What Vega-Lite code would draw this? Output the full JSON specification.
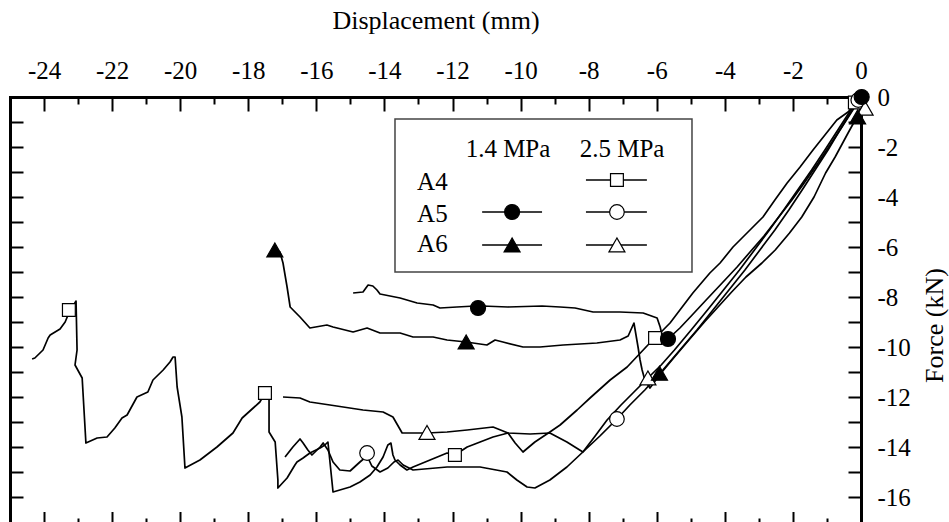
{
  "$schema": "https://vega.github.io/schema/vega-lite/v6.json",
  "width": 851,
  "height": 425,
  "autosize": {"type": "none"},
  "padding": {"left": 10, "top": 97, "right": 88, "bottom": 0},
  "background": "white",
  "config": {
    "view": {"stroke": null},
    "axis": {
      "grid": false, "domain": false, "domainColor": "black", "domainWidth": 3, "domainCap": "square",
      "tickColor": "black", "tickWidth": 2,
      "labelFont": "'Liberation Serif', 'Times New Roman', Times, serif", "labelFontSize": 25, "labelColor": "black",
      "titleFont": "'Liberation Serif', 'Times New Roman', Times, serif", "titleFontSize": 26, "titleColor": "black", "titleFontWeight": "normal",
      "labelFlush": false, "labelOverlap": false
    },
    "text": {"font": "'Liberation Serif', 'Times New Roman', Times, serif"}
  },
  "datasets": {
    "curves": [
      {"s":"A4 2.5","i":1,"x":0,"y":-0.04},{"s":"A4 2.5","i":2,"x":-0.18,"y":-0.28},{"s":"A4 2.5","i":3,"x":-0.38,"y":-0.6},{"s":"A4 2.5","i":4,"x":-0.71,"y":-0.92},{"s":"A4 2.5","i":5,"x":-1.06,"y":-1.52},{"s":"A4 2.5","i":6,"x":-1.41,"y":-2.12},{"s":"A4 2.5","i":7,"x":-1.79,"y":-2.8},{"s":"A4 2.5","i":8,"x":-2.17,"y":-3.44},{"s":"A4 2.5","i":9,"x":-2.53,"y":-4.12},{"s":"A4 2.5","i":10,"x":-2.88,"y":-4.8},{"s":"A4 2.5","i":11,"x":-3.32,"y":-5.4},{"s":"A4 2.5","i":12,"x":-3.76,"y":-6.0},{"s":"A4 2.5","i":13,"x":-4.14,"y":-6.64},{"s":"A4 2.5","i":14,"x":-4.44,"y":-7.04},{"s":"A4 2.5","i":15,"x":-4.94,"y":-7.84},{"s":"A4 2.5","i":16,"x":-5.32,"y":-8.52},{"s":"A4 2.5","i":17,"x":-5.61,"y":-9.04},{"s":"A4 2.5","i":18,"x":-5.9,"y":-9.44},{"s":"A4 2.5","i":19,"x":-6.05,"y":-9.64},{"s":"A4 2.5","i":20,"x":-6.26,"y":-9.92},{"s":"A4 2.5","i":21,"x":-6.87,"y":-10.8},{"s":"A4 2.5","i":22,"x":-7.37,"y":-11.32},{"s":"A4 2.5","i":23,"x":-7.96,"y":-12.04},{"s":"A4 2.5","i":24,"x":-8.34,"y":-12.52},{"s":"A4 2.5","i":25,"x":-8.84,"y":-13.12},{"s":"A4 2.5","i":26,"x":-9.14,"y":-13.4},{"s":"A4 2.5","i":27,"x":-9.58,"y":-13.8},{"s":"A4 2.5","i":28,"x":-9.93,"y":-14.2},{"s":"A4 2.5","i":29,"x":-10.16,"y":-13.84},{"s":"A4 2.5","i":30,"x":-10.37,"y":-13.44},{"s":"A4 2.5","i":31,"x":-10.81,"y":-13.6},{"s":"A4 2.5","i":32,"x":-11.19,"y":-13.8},{"s":"A4 2.5","i":33,"x":-11.57,"y":-14.0},{"s":"A4 2.5","i":34,"x":-11.93,"y":-14.32},{"s":"A4 2.5","i":35,"x":-12.16,"y":-14.24},{"s":"A4 2.5","i":36,"x":-12.66,"y":-14.52},{"s":"A4 2.5","i":37,"x":-13.16,"y":-14.8},{"s":"A4 2.5","i":38,"x":-13.34,"y":-14.92},{"s":"A4 2.5","i":39,"x":-13.54,"y":-14.72},{"s":"A4 2.5","i":40,"x":-13.69,"y":-14.52},{"s":"A4 2.5","i":41,"x":-13.75,"y":-14.32},{"s":"A4 2.5","i":42,"x":-13.81,"y":-13.84},{"s":"A4 2.5","i":43,"x":-13.9,"y":-13.92},{"s":"A4 2.5","i":44,"x":-14.04,"y":-14.4},{"s":"A4 2.5","i":45,"x":-14.22,"y":-14.8},{"s":"A4 2.5","i":46,"x":-14.42,"y":-15.12},{"s":"A4 2.5","i":47,"x":-14.72,"y":-15.4},{"s":"A4 2.5","i":48,"x":-15.01,"y":-15.6},{"s":"A4 2.5","i":49,"x":-15.51,"y":-15.8},{"s":"A4 2.5","i":50,"x":-15.66,"y":-13.8},{"s":"A4 2.5","i":51,"x":-15.75,"y":-13.92},{"s":"A4 2.5","i":52,"x":-15.89,"y":-14.04},{"s":"A4 2.5","i":53,"x":-16.19,"y":-14.24},{"s":"A4 2.5","i":54,"x":-16.39,"y":-14.44},{"s":"A4 2.5","i":55,"x":-16.57,"y":-14.6},{"s":"A4 2.5","i":56,"x":-16.63,"y":-14.72},{"s":"A4 2.5","i":57,"x":-16.86,"y":-15.24},{"s":"A4 2.5","i":58,"x":-17.13,"y":-15.64},{"s":"A4 2.5","i":59,"x":-17.13,"y":-15.32},{"s":"A4 2.5","i":60,"x":-17.21,"y":-13.8},{"s":"A4 2.5","i":61,"x":-17.39,"y":-13.4},{"s":"A4 2.5","i":62,"x":-17.39,"y":-11.64},{"s":"A4 2.5","i":63,"x":-17.51,"y":-11.84},{"s":"A4 2.5","i":64,"x":-17.66,"y":-12.2},{"s":"A4 2.5","i":65,"x":-18.18,"y":-12.84},{"s":"A4 2.5","i":66,"x":-18.45,"y":-13.44},{"s":"A4 2.5","i":67,"x":-18.92,"y":-14.0},{"s":"A4 2.5","i":68,"x":-19.42,"y":-14.52},{"s":"A4 2.5","i":69,"x":-19.86,"y":-14.84},{"s":"A4 2.5","i":70,"x":-19.95,"y":-12.8},{"s":"A4 2.5","i":71,"x":-20.09,"y":-11.6},{"s":"A4 2.5","i":72,"x":-20.15,"y":-10.4},{"s":"A4 2.5","i":73,"x":-20.21,"y":-10.4},{"s":"A4 2.5","i":74,"x":-20.3,"y":-10.6},{"s":"A4 2.5","i":75,"x":-20.5,"y":-10.92},{"s":"A4 2.5","i":76,"x":-20.8,"y":-11.32},{"s":"A4 2.5","i":77,"x":-20.95,"y":-11.8},{"s":"A4 2.5","i":78,"x":-21.27,"y":-12.0},{"s":"A4 2.5","i":79,"x":-21.56,"y":-12.72},{"s":"A4 2.5","i":80,"x":-21.71,"y":-12.84},{"s":"A4 2.5","i":81,"x":-21.92,"y":-13.24},{"s":"A4 2.5","i":82,"x":-22.15,"y":-13.6},{"s":"A4 2.5","i":83,"x":-22.44,"y":-13.64},{"s":"A4 2.5","i":84,"x":-22.77,"y":-13.84},{"s":"A4 2.5","i":85,"x":-22.88,"y":-11.24},{"s":"A4 2.5","i":86,"x":-23.09,"y":-10.72},{"s":"A4 2.5","i":87,"x":-23.03,"y":-10.12},{"s":"A4 2.5","i":88,"x":-23.06,"y":-8.16},{"s":"A4 2.5","i":89,"x":-23.27,"y":-8.64},{"s":"A4 2.5","i":90,"x":-23.38,"y":-9.0},{"s":"A4 2.5","i":91,"x":-23.53,"y":-9.28},{"s":"A4 2.5","i":92,"x":-23.82,"y":-9.52},{"s":"A4 2.5","i":93,"x":-23.88,"y":-9.64},{"s":"A4 2.5","i":94,"x":-24.03,"y":-10.12},{"s":"A4 2.5","i":95,"x":-24.27,"y":-10.44},{"s":"A4 2.5","i":96,"x":-24.35,"y":-10.48},

      {"s":"A5 1.4","i":1,"x":0,"y":0},{"s":"A5 1.4","i":2,"x":-0.24,"y":-0.52},{"s":"A5 1.4","i":3,"x":-0.56,"y":-1.2},{"s":"A5 1.4","i":4,"x":-0.91,"y":-1.92},{"s":"A5 1.4","i":5,"x":-1.26,"y":-2.64},{"s":"A5 1.4","i":6,"x":-1.67,"y":-3.44},{"s":"A5 1.4","i":7,"x":-2.03,"y":-4.12},{"s":"A5 1.4","i":8,"x":-2.44,"y":-4.84},{"s":"A5 1.4","i":9,"x":-2.85,"y":-5.56},{"s":"A5 1.4","i":10,"x":-3.26,"y":-6.2},{"s":"A5 1.4","i":11,"x":-3.64,"y":-6.8},{"s":"A5 1.4","i":12,"x":-4.08,"y":-7.44},{"s":"A5 1.4","i":13,"x":-4.55,"y":-8.12},{"s":"A5 1.4","i":14,"x":-4.96,"y":-8.72},{"s":"A5 1.4","i":15,"x":-5.32,"y":-9.24},{"s":"A5 1.4","i":16,"x":-5.67,"y":-9.68},{"s":"A5 1.4","i":17,"x":-5.79,"y":-9.84},{"s":"A5 1.4","i":18,"x":-5.9,"y":-9.2},{"s":"A5 1.4","i":19,"x":-5.99,"y":-8.84},{"s":"A5 1.4","i":20,"x":-6.4,"y":-8.64},{"s":"A5 1.4","i":21,"x":-7.08,"y":-8.6},{"s":"A5 1.4","i":22,"x":-7.87,"y":-8.6},{"s":"A5 1.4","i":23,"x":-8.4,"y":-8.44},{"s":"A5 1.4","i":24,"x":-8.84,"y":-8.4},{"s":"A5 1.4","i":25,"x":-9.37,"y":-8.36},{"s":"A5 1.4","i":26,"x":-10.37,"y":-8.4},{"s":"A5 1.4","i":27,"x":-11.13,"y":-8.36},{"s":"A5 1.4","i":28,"x":-11.25,"y":-8.44},{"s":"A5 1.4","i":29,"x":-11.34,"y":-8.36},{"s":"A5 1.4","i":30,"x":-11.87,"y":-8.4},{"s":"A5 1.4","i":31,"x":-12.37,"y":-8.44},{"s":"A5 1.4","i":32,"x":-12.57,"y":-8.32},{"s":"A5 1.4","i":33,"x":-13.04,"y":-8.24},{"s":"A5 1.4","i":34,"x":-13.54,"y":-8.04},{"s":"A5 1.4","i":35,"x":-14.13,"y":-7.88},{"s":"A5 1.4","i":36,"x":-14.22,"y":-7.72},{"s":"A5 1.4","i":37,"x":-14.34,"y":-7.56},{"s":"A5 1.4","i":38,"x":-14.48,"y":-7.52},{"s":"A5 1.4","i":39,"x":-14.63,"y":-7.8},{"s":"A5 1.4","i":40,"x":-14.92,"y":-7.84},

      {"s":"A5 2.5","i":1,"x":0,"y":0},{"s":"A5 2.5","i":2,"x":-0.26,"y":-0.52},{"s":"A5 2.5","i":3,"x":-0.62,"y":-1.32},{"s":"A5 2.5","i":4,"x":-0.97,"y":-2.12},{"s":"A5 2.5","i":5,"x":-1.35,"y":-2.92},{"s":"A5 2.5","i":6,"x":-1.73,"y":-3.72},{"s":"A5 2.5","i":7,"x":-2.12,"y":-4.52},{"s":"A5 2.5","i":8,"x":-2.53,"y":-5.32},{"s":"A5 2.5","i":9,"x":-2.97,"y":-6.12},{"s":"A5 2.5","i":10,"x":-3.41,"y":-6.92},{"s":"A5 2.5","i":11,"x":-3.88,"y":-7.72},{"s":"A5 2.5","i":12,"x":-4.35,"y":-8.52},{"s":"A5 2.5","i":13,"x":-4.82,"y":-9.32},{"s":"A5 2.5","i":14,"x":-5.32,"y":-10.12},{"s":"A5 2.5","i":15,"x":-5.82,"y":-10.92},{"s":"A5 2.5","i":16,"x":-6.35,"y":-11.72},{"s":"A5 2.5","i":17,"x":-6.79,"y":-12.32},{"s":"A5 2.5","i":18,"x":-7.17,"y":-12.88},{"s":"A5 2.5","i":19,"x":-7.67,"y":-13.56},{"s":"A5 2.5","i":20,"x":-8.17,"y":-14.2},{"s":"A5 2.5","i":21,"x":-8.64,"y":-14.8},{"s":"A5 2.5","i":22,"x":-9.14,"y":-15.32},{"s":"A5 2.5","i":23,"x":-9.58,"y":-15.64},{"s":"A5 2.5","i":24,"x":-9.81,"y":-15.6},{"s":"A5 2.5","i":25,"x":-10.11,"y":-15.32},{"s":"A5 2.5","i":26,"x":-10.4,"y":-15.0},{"s":"A5 2.5","i":27,"x":-11.19,"y":-14.8},{"s":"A5 2.5","i":28,"x":-12.16,"y":-14.8},{"s":"A5 2.5","i":29,"x":-13.16,"y":-14.92},{"s":"A5 2.5","i":30,"x":-13.45,"y":-14.72},{"s":"A5 2.5","i":31,"x":-13.6,"y":-14.52},{"s":"A5 2.5","i":32,"x":-13.72,"y":-14.6},{"s":"A5 2.5","i":33,"x":-13.9,"y":-14.84},{"s":"A5 2.5","i":34,"x":-14.13,"y":-15.0},{"s":"A5 2.5","i":35,"x":-14.37,"y":-14.76},{"s":"A5 2.5","i":36,"x":-14.51,"y":-14.36},{"s":"A5 2.5","i":37,"x":-14.72,"y":-14.6},{"s":"A5 2.5","i":38,"x":-15.01,"y":-14.96},{"s":"A5 2.5","i":39,"x":-15.31,"y":-14.92},{"s":"A5 2.5","i":40,"x":-15.51,"y":-14.6},{"s":"A5 2.5","i":41,"x":-15.66,"y":-14.12},{"s":"A5 2.5","i":42,"x":-15.8,"y":-13.84},{"s":"A5 2.5","i":43,"x":-15.89,"y":-14.0},{"s":"A5 2.5","i":44,"x":-16.13,"y":-14.32},{"s":"A5 2.5","i":45,"x":-16.25,"y":-14.12},{"s":"A5 2.5","i":46,"x":-16.39,"y":-13.84},{"s":"A5 2.5","i":47,"x":-16.48,"y":-13.68},{"s":"A5 2.5","i":48,"x":-16.69,"y":-14.0},{"s":"A5 2.5","i":49,"x":-16.92,"y":-14.4},

      {"s":"A6 1.4","i":1,"x":0,"y":-0.32},{"s":"A6 1.4","i":2,"x":-0.12,"y":-0.8},{"s":"A6 1.4","i":3,"x":-0.38,"y":-1.44},{"s":"A6 1.4","i":4,"x":-0.76,"y":-2.4},{"s":"A6 1.4","i":5,"x":-1.04,"y":-3.04},{"s":"A6 1.4","i":6,"x":-1.38,"y":-4.0},{"s":"A6 1.4","i":7,"x":-1.74,"y":-4.8},{"s":"A6 1.4","i":8,"x":-2.1,"y":-5.44},{"s":"A6 1.4","i":9,"x":-2.52,"y":-6.12},{"s":"A6 1.4","i":10,"x":-2.91,"y":-6.64},{"s":"A6 1.4","i":11,"x":-3.38,"y":-7.2},{"s":"A6 1.4","i":12,"x":-3.8,"y":-7.8},{"s":"A6 1.4","i":13,"x":-4.2,"y":-8.4},{"s":"A6 1.4","i":14,"x":-4.6,"y":-9.0},{"s":"A6 1.4","i":15,"x":-5.03,"y":-9.68},{"s":"A6 1.4","i":16,"x":-5.48,"y":-10.4},{"s":"A6 1.4","i":17,"x":-5.92,"y":-11.12},{"s":"A6 1.4","i":18,"x":-6.2,"y":-11.64},{"s":"A6 1.4","i":19,"x":-6.35,"y":-11.32},{"s":"A6 1.4","i":20,"x":-6.43,"y":-10.92},{"s":"A6 1.4","i":21,"x":-6.49,"y":-10.52},{"s":"A6 1.4","i":22,"x":-6.55,"y":-10.0},{"s":"A6 1.4","i":23,"x":-6.67,"y":-9.04},{"s":"A6 1.4","i":24,"x":-6.84,"y":-9.56},{"s":"A6 1.4","i":25,"x":-7.08,"y":-9.72},{"s":"A6 1.4","i":26,"x":-7.76,"y":-9.84},{"s":"A6 1.4","i":27,"x":-8.75,"y":-9.92},{"s":"A6 1.4","i":28,"x":-9.43,"y":-10.0},{"s":"A6 1.4","i":29,"x":-9.93,"y":-10.0},{"s":"A6 1.4","i":30,"x":-10.52,"y":-9.8},{"s":"A6 1.4","i":31,"x":-10.75,"y":-9.72},{"s":"A6 1.4","i":32,"x":-10.99,"y":-9.92},{"s":"A6 1.4","i":33,"x":-11.6,"y":-9.8},{"s":"A6 1.4","i":34,"x":-12.16,"y":-9.72},{"s":"A6 1.4","i":35,"x":-12.57,"y":-9.6},{"s":"A6 1.4","i":36,"x":-13.16,"y":-9.6},{"s":"A6 1.4","i":37,"x":-13.54,"y":-9.44},{"s":"A6 1.4","i":38,"x":-14.13,"y":-9.44},{"s":"A6 1.4","i":39,"x":-14.51,"y":-9.24},{"s":"A6 1.4","i":40,"x":-14.92,"y":-9.4},{"s":"A6 1.4","i":41,"x":-15.51,"y":-9.2},{"s":"A6 1.4","i":42,"x":-15.69,"y":-9.12},{"s":"A6 1.4","i":43,"x":-16.19,"y":-9.24},{"s":"A6 1.4","i":44,"x":-16.48,"y":-8.8},{"s":"A6 1.4","i":45,"x":-16.77,"y":-8.4},{"s":"A6 1.4","i":46,"x":-16.86,"y":-7.6},{"s":"A6 1.4","i":47,"x":-16.98,"y":-6.64},{"s":"A6 1.4","i":48,"x":-17.07,"y":-6.2},{"s":"A6 1.4","i":49,"x":-17.24,"y":-6.12},

      {"s":"A6 2.5","i":1,"x":0,"y":-0.12},{"s":"A6 2.5","i":2,"x":-0.3,"y":-0.52},{"s":"A6 2.5","i":3,"x":-0.68,"y":-1.32},{"s":"A6 2.5","i":4,"x":-1.06,"y":-2.12},{"s":"A6 2.5","i":5,"x":-1.45,"y":-2.92},{"s":"A6 2.5","i":6,"x":-1.86,"y":-3.72},{"s":"A6 2.5","i":7,"x":-2.27,"y":-4.52},{"s":"A6 2.5","i":8,"x":-2.69,"y":-5.32},{"s":"A6 2.5","i":9,"x":-3.13,"y":-6.12},{"s":"A6 2.5","i":10,"x":-3.57,"y":-6.92},{"s":"A6 2.5","i":11,"x":-4.04,"y":-7.72},{"s":"A6 2.5","i":12,"x":-4.51,"y":-8.52},{"s":"A6 2.5","i":13,"x":-4.99,"y":-9.32},{"s":"A6 2.5","i":14,"x":-5.48,"y":-10.12},{"s":"A6 2.5","i":15,"x":-5.87,"y":-10.72},{"s":"A6 2.5","i":16,"x":-6.26,"y":-11.24},{"s":"A6 2.5","i":17,"x":-6.67,"y":-11.8},{"s":"A6 2.5","i":18,"x":-7.05,"y":-12.32},{"s":"A6 2.5","i":19,"x":-7.46,"y":-12.92},{"s":"A6 2.5","i":20,"x":-7.81,"y":-13.56},{"s":"A6 2.5","i":21,"x":-8.17,"y":-14.2},{"s":"A6 2.5","i":22,"x":-8.64,"y":-13.8},{"s":"A6 2.5","i":23,"x":-9.14,"y":-13.44},{"s":"A6 2.5","i":24,"x":-9.72,"y":-13.48},{"s":"A6 2.5","i":25,"x":-10.37,"y":-13.44},{"s":"A6 2.5","i":26,"x":-10.81,"y":-13.2},{"s":"A6 2.5","i":27,"x":-11.57,"y":-13.32},{"s":"A6 2.5","i":28,"x":-12.16,"y":-13.4},{"s":"A6 2.5","i":29,"x":-12.75,"y":-13.44},{"s":"A6 2.5","i":30,"x":-13.48,"y":-13.44},{"s":"A6 2.5","i":31,"x":-13.75,"y":-12.8},{"s":"A6 2.5","i":32,"x":-14.04,"y":-12.6},{"s":"A6 2.5","i":33,"x":-14.63,"y":-12.52},{"s":"A6 2.5","i":34,"x":-15.6,"y":-12.32},{"s":"A6 2.5","i":35,"x":-16.19,"y":-12.2},{"s":"A6 2.5","i":36,"x":-16.48,"y":-12.04},{"s":"A6 2.5","i":37,"x":-16.98,"y":-12.0}
    ],
    "markers": [
      {"s":"A4 2.5","x":-0.18,"y":-0.22},{"s":"A4 2.5","x":-6.05,"y":-9.64},{"s":"A4 2.5","x":-11.93,"y":-14.32},{"s":"A4 2.5","x":-17.51,"y":-11.84},{"s":"A4 2.5","x":-23.27,"y":-8.52},
      {"s":"A5 2.5","x":-0.08,"y":-0.12},{"s":"A5 2.5","x":-7.17,"y":-12.88},{"s":"A5 2.5","x":-14.51,"y":-14.24},
      {"s":"A6 2.5","x":0.12,"y":-0.45},{"s":"A6 2.5","x":-6.26,"y":-11.24},{"s":"A6 2.5","x":-12.75,"y":-13.42},
      {"s":"A6 1.4","x":-0.1,"y":-0.8},{"s":"A6 1.4","x":-5.92,"y":-11.05},{"s":"A6 1.4","x":-11.6,"y":-9.8},{"s":"A6 1.4","x":-17.22,"y":-6.12},
      {"s":"A5 1.4","x":0.02,"y":0},{"s":"A5 1.4","x":-5.67,"y":-9.68},{"s":"A5 1.4","x":-11.25,"y":-8.44}
    ],
    "legendBox": [{"x":-13.69,"x2":-4.965,"y":-0.88,"y2":-7.0}],
    "legendHeader": [{"t":"1.4 MPa","x":-10.37,"y":-2.4},{"t":"2.5 MPa","x":-7.02,"y":-2.4}],
    "legendRows": [{"t":"A4","x":-13.04,"y":-3.72},{"t":"A5","x":-13.04,"y":-5.0},{"t":"A6","x":-13.04,"y":-6.2}],
    "legendRules": [
      {"s":"A4 2.5","x":-8.08,"x2":-6.29,"y":-3.32},
      {"s":"A5 1.4","x":-11.13,"x2":-9.37,"y":-4.6},
      {"s":"A5 2.5","x":-8.08,"x2":-6.29,"y":-4.6},
      {"s":"A6 1.4","x":-11.13,"x2":-9.37,"y":-5.92},
      {"s":"A6 2.5","x":-8.08,"x2":-6.29,"y":-5.92}
    ],
    "legendSymbols": [
      {"s":"A4 2.5","x":-7.17,"y":-3.32},
      {"s":"A5 1.4","x":-10.25,"y":-4.6},
      {"s":"A5 2.5","x":-7.17,"y":-4.6},
      {"s":"A6 1.4","x":-10.25,"y":-5.92},
      {"s":"A6 2.5","x":-7.17,"y":-5.92}
    ]
  },
  "layer": [
    {
      "data": {"name": "curves"},
      "mark": {"type": "line", "color": "black", "strokeWidth": 1.7, "strokeJoin": "round"},
      "encoding": {
        "x": {"field": "x", "type": "quantitative", "scale": {"domain": [-25, 0], "nice": false, "zero": false},
          "axis": {"orient": "top", "values": [-24,-22,-20,-18,-16,-14,-12,-10,-8,-6,-4,-2,0], "tickSize": -14, "labelPadding": 33, "labelBaseline": "alphabetic", "labelExpr": "'' + datum.value", "domain": true, "title": "Displacement (mm)", "titleY": -68.5, "titleBaseline": "alphabetic"}},
        "y": {"field": "y", "type": "quantitative", "scale": {"domain": [-17, 0], "nice": false, "zero": false},
          "axis": {"orient": "right", "values": [0,-1,-2,-3,-4,-5,-6,-7,-8,-9,-10,-11,-12,-13,-14,-15,-16], "tickSize": -13, "labelPadding": 29, "labelAlign": "left", "labelBaseline": "middle", "labelExpr": "datum.value % 2 == 0 ? '' + datum.value : ''", "domain": true, "title": "Force (kN)", "titleAngle": 270, "titleX": 81, "titleY": 228, "titleBaseline": "alphabetic", "titleAlign": "center"}},
        "detail": {"field": "s", "type": "nominal"},
        "order": {"field": "i", "type": "quantitative"}
      }
    },
    {
      "data": {"name": "markers"},
      "mark": {"type": "point", "filled": true, "stroke": "black", "strokeWidth": 1.2, "opacity": 1},
      "encoding": {
        "x": {"field": "x", "type": "quantitative", "scale": {"domain": [-25, 0], "nice": false, "zero": false},
          "axis": {"orient": "top", "values": [-23,-21,-19,-17,-15,-13,-11,-9,-7,-5,-3,-1], "tickSize": -7, "labels": false, "domain": false, "title": null}},
        "y": {"field": "y", "type": "quantitative", "scale": {"domain": [-17, 0], "nice": false, "zero": false},
          "axis": {"orient": "left", "values": [-1,-2,-3,-4,-5,-6,-7,-8,-9,-10,-11,-12,-13,-14,-15,-16], "tickSize": -13, "labels": false, "domain": true, "title": null}},
        "shape": {"field": "s", "type": "nominal", "scale": {"domain": ["A4 2.5","A5 1.4","A5 2.5","A6 1.4","A6 2.5"], "range": ["square","circle","circle","triangle-up","triangle-up"]}, "legend": null},
        "fill": {"field": "s", "type": "nominal", "scale": {"domain": ["A4 2.5","A5 1.4","A5 2.5","A6 1.4","A6 2.5"], "range": ["white","black","white","black","white"]}, "legend": null},
        "size": {"field": "s", "type": "ordinal", "scale": {"type": "ordinal", "domain": ["A4 2.5","A5 1.4","A5 2.5","A6 1.4","A6 2.5"], "range": [165, 225, 215, 256, 256]}, "legend": null}
      }
    },
    {
      "data": {"name": "legendBox"},
      "mark": {"type": "rect", "fill": "white", "stroke": "#444444", "strokeWidth": 1.5},
      "encoding": {
        "x": {"field": "x", "type": "quantitative", "scale": {"domain": [-25, 0], "nice": false, "zero": false},
          "axis": {"orient": "bottom", "values": [-24,-22,-20,-18,-16,-14,-12,-10,-8,-6,-4,-2], "tickSize": -10.5, "labels": false, "domain": false, "title": null}},
        "x2": {"field": "x2"},
        "y": {"field": "y", "type": "quantitative", "scale": {"domain": [-17, 0], "nice": false, "zero": false}, "axis": null},
        "y2": {"field": "y2"}
      }
    },
    {
      "data": {"name": "legendHeader"},
      "mark": {"type": "text", "align": "center", "baseline": "alphabetic", "fontSize": 25, "font": "'Liberation Serif', 'Times New Roman', Times, serif", "color": "black"},
      "encoding": {
        "x": {"field": "x", "type": "quantitative", "scale": {"domain": [-25, 0], "nice": false, "zero": false},
          "axis": {"orient": "bottom", "values": [-23,-21,-19,-17,-15,-13,-11,-9,-7,-5,-3,-1], "tickSize": -4, "labels": false, "domain": false, "title": null}},
        "y": {"field": "y", "type": "quantitative", "scale": {"domain": [-17, 0], "nice": false, "zero": false}, "axis": null},
        "text": {"field": "t"}
      }
    },
    {
      "data": {"name": "legendRows"},
      "mark": {"type": "text", "align": "left", "baseline": "alphabetic", "fontSize": 25, "font": "'Liberation Serif', 'Times New Roman', Times, serif", "color": "black"},
      "encoding": {
        "x": {"field": "x", "type": "quantitative", "scale": {"domain": [-25, 0], "nice": false, "zero": false}, "axis": null},
        "y": {"field": "y", "type": "quantitative", "scale": {"domain": [-17, 0], "nice": false, "zero": false}, "axis": null},
        "text": {"field": "t"}
      }
    },
    {
      "data": {"name": "legendRules"},
      "mark": {"type": "rule", "color": "black", "strokeWidth": 1.6},
      "encoding": {
        "x": {"field": "x", "type": "quantitative", "scale": {"domain": [-25, 0], "nice": false, "zero": false}, "axis": null},
        "x2": {"field": "x2"},
        "y": {"field": "y", "type": "quantitative", "scale": {"domain": [-17, 0], "nice": false, "zero": false}, "axis": null}
      }
    },
    {
      "data": {"name": "legendSymbols"},
      "mark": {"type": "point", "filled": true, "stroke": "black", "strokeWidth": 1.2, "opacity": 1},
      "encoding": {
        "x": {"field": "x", "type": "quantitative", "scale": {"domain": [-25, 0], "nice": false, "zero": false}, "axis": null},
        "y": {"field": "y", "type": "quantitative", "scale": {"domain": [-17, 0], "nice": false, "zero": false}, "axis": null},
        "shape": {"field": "s", "type": "nominal", "scale": {"domain": ["A4 2.5","A5 1.4","A5 2.5","A6 1.4","A6 2.5"], "range": ["square","circle","circle","triangle-up","triangle-up"]}, "legend": null},
        "fill": {"field": "s", "type": "nominal", "scale": {"domain": ["A4 2.5","A5 1.4","A5 2.5","A6 1.4","A6 2.5"], "range": ["white","black","white","black","white"]}, "legend": null},
        "size": {"field": "s", "type": "ordinal", "scale": {"type": "ordinal", "domain": ["A4 2.5","A5 1.4","A5 2.5","A6 1.4","A6 2.5"], "range": [165, 225, 215, 256, 256]}, "legend": null}
      }
    }
  ],
  "resolve": {"axis": {"x": "independent", "y": "independent"}}
}
